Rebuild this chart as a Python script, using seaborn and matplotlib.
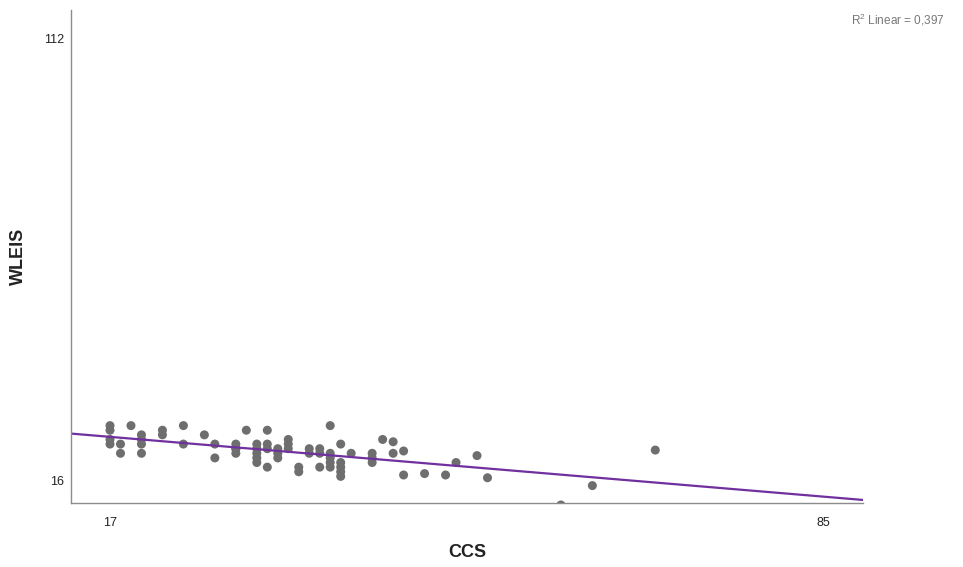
import matplotlib
matplotlib.use("Agg")
import matplotlib.pyplot as plt
import seaborn as sns
import numpy as np
import pandas as pd

# ---- data ----
ccs = [17, 17, 17, 17,
       18, 18,
       19,
       20, 20, 20, 20,
       22, 22,
       24, 24,
       26,
       27, 27,
       29, 29, 29, 29,
       30,
       31, 31, 31, 31, 31,
       32, 32, 32, 32,
       33, 33, 33,
       34, 34, 34,
       35, 35,
       36, 36,
       37, 37, 37,
       38, 38, 38, 38, 38,
       39, 39, 39, 39, 39,
       40,
       42, 42, 42,
       43,
       44, 44,
       45, 45,
       47,
       49,
       50,
       52,
       53,
       60,
       63,
       69]
wleis = [28, 27, 25, 24,
         24, 22,
         28,
         26, 25, 24, 22,
         27, 26,
         28, 24,
         26,
         24, 21,
         24, 23, 23, 22,
         27,
         24, 23, 22, 21, 20,
         27, 24, 23, 19,
         23, 22, 21,
         25, 24, 23,
         19, 18,
         23, 22,
         23, 22, 19,
         28, 22, 21, 20, 19,
         24, 20, 19, 18, 17,
         22,
         22, 21, 20,
         25,
         24.5, 22,
         22.5, 17.3,
         17.6,
         17.3,
         20,
         21.5,
         16.7,
         10.8,
         15,
         22.7]
x_ticks = [17, 85]
y_ticks = [16, 112]
r2_label = "R$^{2}$ Linear = 0,397"

df = pd.DataFrame({"CCS": ccs, "WLEIS": wleis})

sns.set_theme(style="white")
plt.rcParams["font.family"] = ["Liberation Sans", "DejaVu Sans"]
plt.rcParams["mathtext.default"] = "regular"

fig = plt.figure(figsize=(9.63, 5.67), dpi=100)
ax = fig.add_axes([71 / 963, 1 - 503 / 567, (863 - 71) / 963, (503 - 10) / 567])

ax.set_xlim(13.28, 88.81)
ax.set_ylim(11.23, 118.07)

sns.regplot(data=df, x="CCS", y="WLEIS", ax=ax, ci=None, truncate=False,
            scatter_kws=dict(s=42, color="#6e6e6e", edgecolor="none", alpha=1, clip_on=True),
            line_kws=dict(color="#7030A0", lw=1.6))

ax.set_xlim(13.28, 88.81)
ax.set_ylim(11.23, 118.07)
ax.set_xticks(x_ticks)
ax.set_yticks(y_ticks)
ax.tick_params(axis="both", length=0, labelsize=9, colors="#222222")
ax.tick_params(axis="x", pad=10)
ax.tick_params(axis="y", pad=5)

for s in ["top", "right"]:
    ax.spines[s].set_visible(False)
for s in ["left", "bottom"]:
    ax.spines[s].set_color("#8c8c8c")
    ax.spines[s].set_linewidth(1.0)

ax.set_xlabel("CCS", fontsize=13, fontweight="bold", labelpad=11, color="#222222")
ax.set_ylabel("WLEIS", fontsize=13, fontweight="bold", labelpad=12, color="#222222")

fig.text(945 / 963, 1 - 20 / 567, r2_label, ha="right", va="center",
         fontsize=8.5, color="#777777")

fig.savefig("out.png", dpi=100)
